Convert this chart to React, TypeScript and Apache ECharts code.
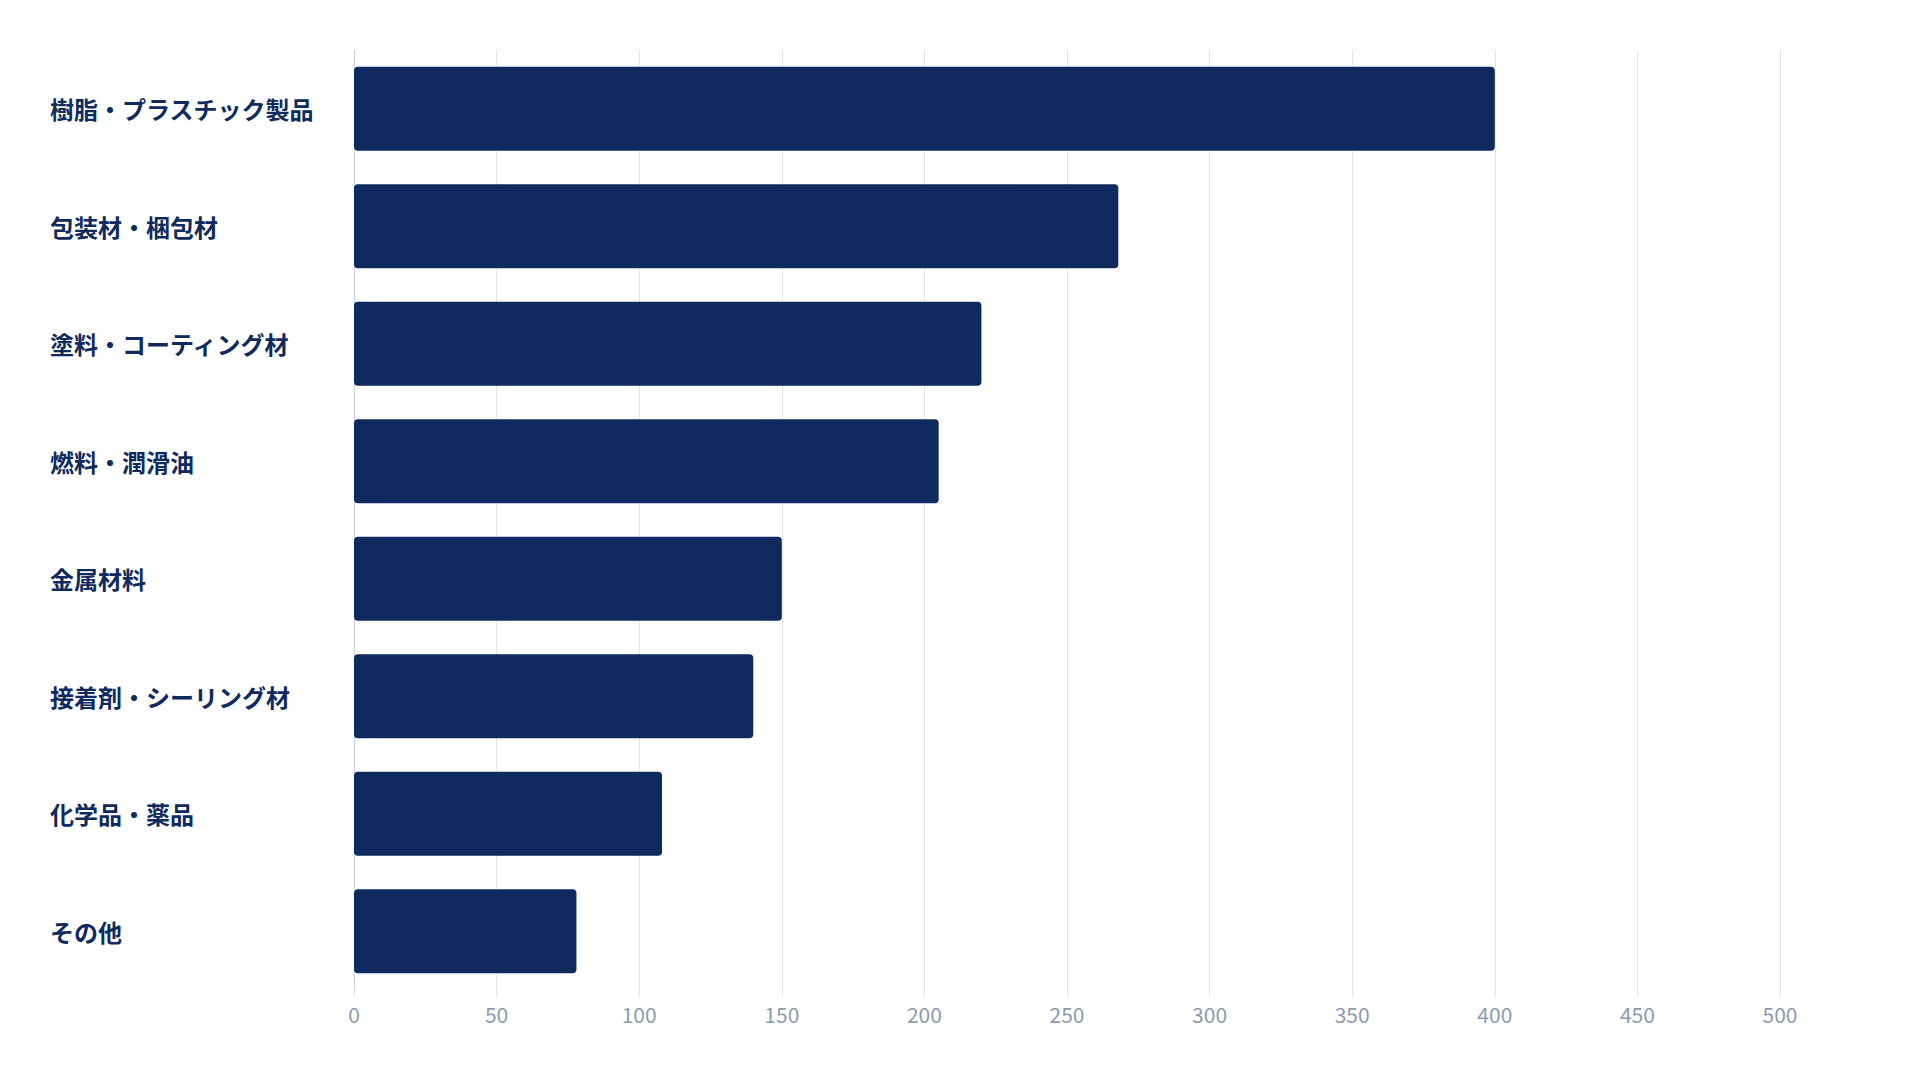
import React, { useEffect, useRef } from "react";
import * as echarts from "echarts";

const categories = [
  "樹脂・プラスチック製品",
  "包装材・梱包材",
  "塗料・コーティング材",
  "燃料・潤滑油",
  "金属材料",
  "接着剤・シーリング材",
  "化学品・薬品",
  "その他",
];
const values = [400, 268, 220, 205, 150, 140, 108, 78];
const xMin = 0;
const xMax = 500;
const xInterval = 50;

const FONT = '"Noto Sans CJK JP", "Noto Sans", sans-serif';
const NAVY = "#0e2a5e";

export default function App() {
  const ref = useRef<HTMLDivElement>(null);
  useEffect(() => {
    if (!ref.current) return;
    const chart = echarts.init(ref.current, undefined, { renderer: "svg" });
    chart.setOption({
      animation: false,
      backgroundColor: "#ffffff",
      textStyle: { fontFamily: FONT },
      grid: { left: 354, right: 140, top: 50, bottom: 90, containLabel: false },
      xAxis: {
        type: "value",
        min: xMin,
        max: xMax,
        interval: xInterval,
        axisLine: { show: false },
        axisTick: { show: true, length: 7, lineStyle: { color: "#e6e6e6" } },
        splitLine: { show: true, lineStyle: { color: "#e6e6e6", width: 1 } },
        axisLabel: {
          color: "#8a9bb2",
          fontSize: 21,
          fontFamily: FONT,
          margin: 13,
        },
      },
      yAxis: {
        type: "category",
        data: categories,
        inverse: true,
        axisLine: { show: true, lineStyle: { color: "#c9d2de", width: 1 } },
        axisTick: { show: false },
        splitLine: { show: false },
        axisLabel: {
          color: NAVY,
          fontSize: 24,
          fontWeight: "bold",
          fontFamily: FONT,
          align: "left",
          margin: 304,
        },
      },
      series: [
        {
          type: "bar",
          data: values,
          barWidth: 84,
          itemStyle: { color: NAVY, borderRadius: 4 },
        },
      ],
    });
    return () => chart.dispose();
  }, []);
  return (
    <div
      ref={ref}
      style={{ position: "absolute", left: 0, top: 0, width: 1920, height: 1080 }}
    />
  );
}
